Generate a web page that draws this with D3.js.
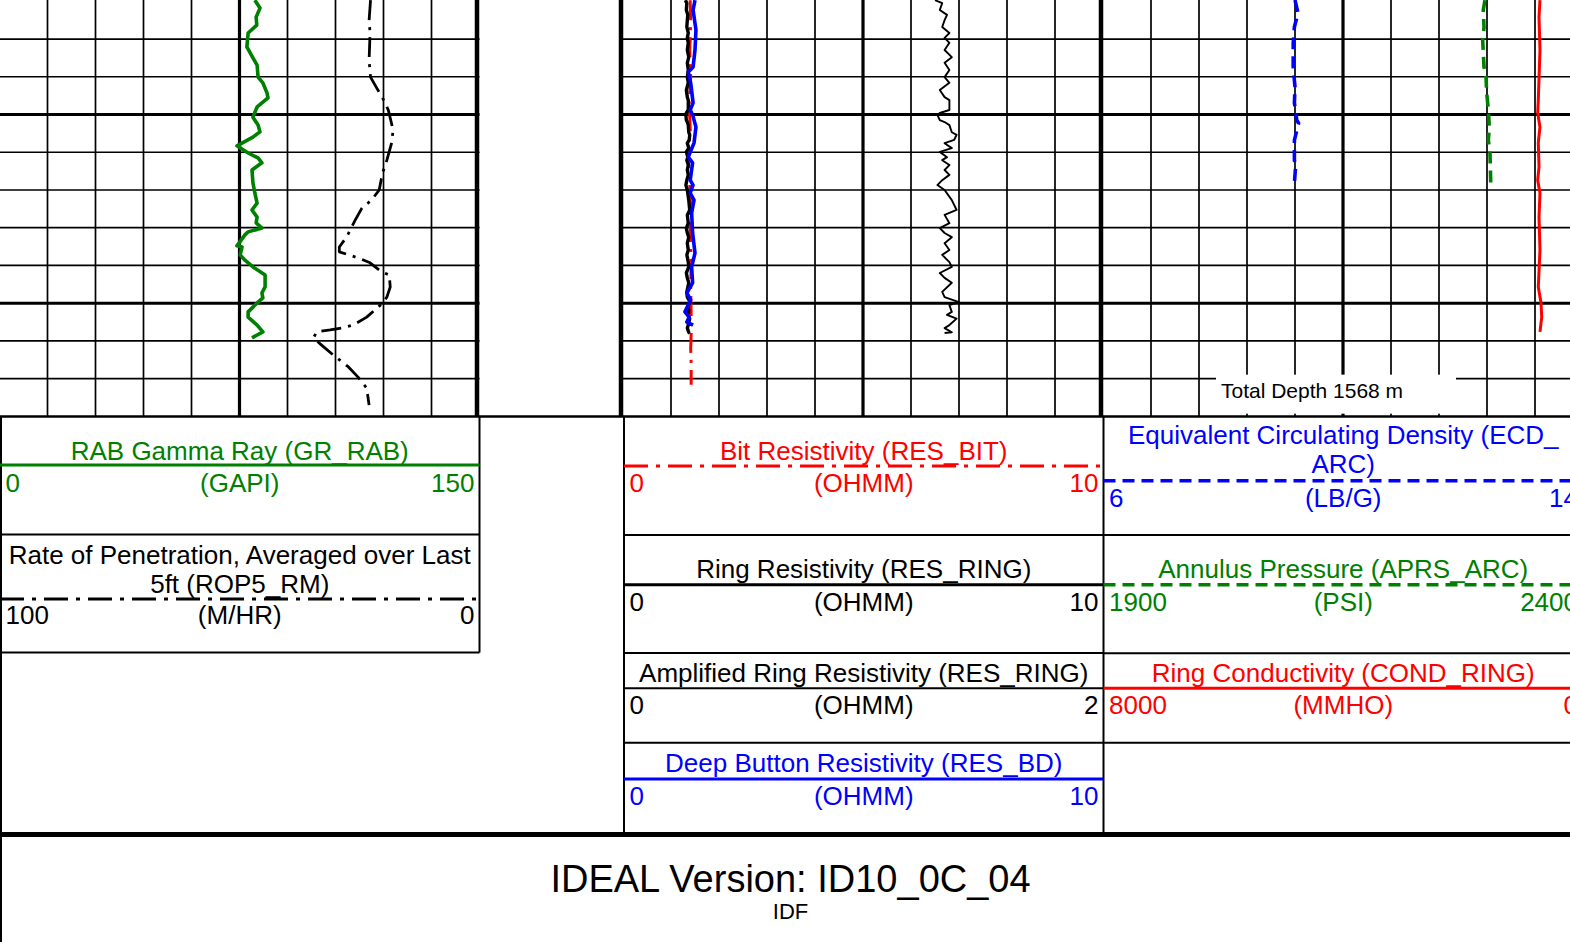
<!DOCTYPE html>
<html>
<head>
<meta charset="utf-8">
<script src="https://cdn.jsdelivr.net/npm/d3@7"></script>
<style>
  html, body { margin: 0; padding: 0; background: #fff; overflow: hidden; }
  svg { display: block; font-family: 'Liberation Sans', Arial, sans-serif; }
</style>
</head>
<body>
<svg id="log" width="1570" height="942"></svg>
<script>
// depth window (m)
const depthTop = 1557;
const depthBottom = 1568;
const totalDepth = 1568;
const gridDepths = d3.range(1558, 1568);

// track 1 : gamma ray + rate of penetration
const grDepth = [1556.97, 1557.18, 1557.42, 1557.63, 1557.84, 1558.21, 1558.50, 1558.69, 1559.01, 1559.16, 1559.43, 1559.56, 1559.80, 1560.07, 1560.28, 1560.46, 1560.60, 1560.83, 1561.02, 1561.15, 1561.28, 1561.47, 1561.81, 1562.08, 1562.35, 1562.53, 1562.72, 1562.87, 1563.01, 1563.11, 1563.19, 1563.48, 1563.51, 1563.72, 1563.86, 1564.04, 1564.25, 1564.57, 1564.73, 1564.86, 1564.97, 1565.23, 1565.37, 1565.58, 1565.76, 1565.92];
const grValue = [79.8, 81.4, 80.2, 80.4, 77.7, 77.3, 79.2, 80.5, 80.8, 82.3, 83.6, 83.9, 80.5, 79.2, 80.8, 81.4, 79.2, 74.2, 77.7, 80.8, 82.0, 78.9, 79.2, 79.8, 80.5, 78.9, 80.5, 80.2, 82.0, 77.7, 76.7, 74.2, 75.8, 75.2, 76.7, 79.2, 83.0, 83.0, 82.0, 82.3, 80.8, 77.7, 77.7, 80.5, 82.3, 78.9];

const ropDepth = [1556.97, 1557.50, 1557.84, 1558.56, 1559.01, 1559.30, 1559.56, 1559.88, 1560.41, 1560.75, 1561.21, 1561.55, 1562.00, 1562.27, 1562.48, 1562.80, 1563.25, 1563.51, 1563.64, 1563.80, 1563.93, 1564.17, 1564.25, 1564.57, 1564.84, 1565.00, 1565.37, 1565.58, 1565.66, 1565.71, 1565.76, 1565.92, 1566.11, 1566.37, 1566.69, 1566.96, 1567.25, 1567.70];
const ropValue = [22.7, 23.0, 22.8, 23.0, 22.7, 21.4, 20.2, 19.0, 18.0, 18.3, 19.3, 20.2, 20.9, 22.5, 24.5, 25.9, 27.7, 29.2, 29.2, 25.3, 22.8, 20.4, 18.8, 18.6, 19.3, 20.2, 23.5, 26.3, 28.7, 31.1, 33.9, 34.6, 32.9, 30.5, 27.3, 25.3, 23.5, 23.0];

// track 2 : resistivities
const resBitDepth = [1556.97, 1557.6, 1558.3, 1559.0, 1559.7, 1560.4, 1561.1, 1561.8, 1562.5, 1563.2, 1563.9, 1564.6, 1565.3, 1565.8, 1566.2, 1566.6, 1567.0, 1567.16];
const resBitValue = [1.40, 1.41, 1.39, 1.41, 1.38, 1.40, 1.36, 1.39, 1.41, 1.40, 1.42, 1.41, 1.42, 1.42, 1.41, 1.42, 1.42, 1.42];

const resRingDepth = [1556.97, 1557.05, 1557.23, 1557.36, 1557.50, 1557.68, 1557.84, 1557.97, 1558.10, 1558.29, 1558.48, 1558.63, 1558.82, 1559.01, 1559.16, 1559.35, 1559.54, 1559.62, 1559.88, 1559.96, 1560.01, 1560.15, 1560.20, 1560.28, 1560.47, 1560.54, 1560.67, 1560.76, 1560.89, 1560.99, 1561.13, 1561.21, 1561.34, 1561.47, 1561.60, 1561.74, 1561.87, 1562.00, 1562.27, 1562.53, 1562.66, 1562.88, 1563.01, 1563.14, 1563.25, 1563.41, 1563.59, 1563.72, 1563.91, 1564.04, 1564.20, 1564.33, 1564.46, 1564.70, 1564.84, 1564.97, 1565.05, 1565.23, 1565.31, 1565.41, 1565.58, 1565.66, 1565.77, 1565.79];
const resRingValue = [1.30, 1.33, 1.32, 1.35, 1.34, 1.33, 1.36, 1.34, 1.36, 1.34, 1.37, 1.34, 1.36, 1.34, 1.36, 1.32, 1.34, 1.36, 1.36, 1.32, 1.31, 1.32, 1.34, 1.36, 1.37, 1.39, 1.38, 1.34, 1.37, 1.32, 1.35, 1.33, 1.36, 1.34, 1.36, 1.33, 1.31, 1.34, 1.37, 1.39, 1.34, 1.36, 1.32, 1.34, 1.37, 1.34, 1.36, 1.33, 1.36, 1.37, 1.32, 1.34, 1.37, 1.33, 1.34, 1.40, 1.36, 1.37, 1.35, 1.39, 1.36, 1.34, 1.37, 1.34];

const resBdDepth = [1556.97, 1557.23, 1557.76, 1558.29, 1558.74, 1558.87, 1559.16, 1559.69, 1559.88, 1560.01, 1560.33, 1560.75, 1561.13, 1561.28, 1561.74, 1561.87, 1562.08, 1562.27, 1562.61, 1563.14, 1563.67, 1564.04, 1564.46, 1564.73, 1564.91, 1565.23, 1565.37, 1565.50, 1565.58];
const resBdValue = [1.50, 1.46, 1.52, 1.50, 1.46, 1.36, 1.41, 1.46, 1.40, 1.45, 1.52, 1.48, 1.36, 1.45, 1.40, 1.46, 1.40, 1.48, 1.43, 1.45, 1.50, 1.43, 1.45, 1.33, 1.41, 1.29, 1.38, 1.33, 1.46];

// track 3 : ECD, annulus pressure, ring conductivity
const ecdDepth = [1556.97, 1557.31, 1557.68, 1558.11, 1558.74, 1559.27, 1559.69, 1560.15, 1560.23, 1560.68, 1561.21, 1561.39, 1561.81];
const ecdValue = [9.20, 9.25, 9.19, 9.17, 9.17, 9.20, 9.19, 9.23, 9.26, 9.19, 9.19, 9.21, 9.19];

const aprsDepth = [1556.97, 1557.23, 1557.68, 1558.03, 1558.74, 1559.01, 1559.43, 1559.88, 1560.33, 1560.68, 1561.02, 1561.81];
const aprsValue = [2297.9, 2296.1, 2296.9, 2295.5, 2296.9, 2299.0, 2299.7, 2301.4, 2302.4, 2301.4, 2303.1, 2303.9];

const condDepth = [1556.97, 1557.42, 1558.29, 1559.62, 1559.96, 1560.33, 1560.75, 1561.39, 1561.74, 1562.08, 1562.72, 1563.59, 1564.57, 1564.99, 1565.37, 1565.76];
const condValue = [717, 733, 717, 745, 755, 717, 745, 733, 755, 717, 733, 717, 745, 700, 688, 717];

// header labels
const curveTitles = [
  ['RAB Gamma Ray (GR_RAB)'],
  ['Rate of Penetration, Averaged over Last', '5ft (ROP5_RM)'],
  ['Bit Resistivity (RES_BIT)'],
  ['Ring Resistivity (RES_RING)'],
  ['Amplified Ring Resistivity (RES_RING)'],
  ['Deep Button Resistivity (RES_BD)'],
  ['Equivalent Circulating Density (ECD_', 'ARC)'],
  ['Annulus Pressure (APRS_ARC)'],
  ['Ring Conductivity (COND_RING)'],
];
const curveUnits = ['(GAPI)', '(M/HR)', '(OHMM)', '(OHMM)', '(OHMM)', '(OHMM)', '(LB/G)', '(PSI)', '(MMHO)'];
const curveLeft = [0, 100, 0, 0, 0, 0, 6, 1900, 8000];
const curveRight = [150, 0, 10, 10, 2, 10, 14, 2400, 0];

const footerTitle = 'IDEAL Version: ID10_0C_04';
const footerSub = 'IDF';

// ---------------------------------------------------------------
const svg = d3.select('#log');
const GREEN = '#008000';
const RED = '#ff0000';
const BLUE = '#0000ff';
const DASH_DOT = '24,8,4,8';
const DASHED = '12,7';
const gridBottom = 416.5;

const y = d3.scaleLinear().domain([depthTop, depthBottom]).range([1.3, 416.4]);

const tracks = [
  { x0: -0.5, x1: 479.5, edges: [477] },
  { x0: 623, x1: 1103, edges: [621, 1101] },
  { x0: 1103, x1: 1583, edges: [] },
];

const grid = svg.append('g').attr('class', 'grid');

tracks.forEach(t => {
  const div = d3.scaleLinear().domain([0, 10]).range([t.x0, t.x1]);

  // depth lines
  grid
    .selectAll(null)
    .data(gridDepths)
    .enter()
    .append('line')
    .attr('x1', Math.max(0, t.x0))
    .attr('x2', Math.min(1570, t.x1))
    .attr('y1', d => y(d))
    .attr('y2', d => y(d))
    .attr('stroke', '#000')
    .attr('stroke-width', d => (d % 5 === 0 ? 3 : 1.7));

  // division lines
  grid
    .selectAll(null)
    .data(d3.range(1, 10))
    .enter()
    .append('line')
    .attr('x1', d => div(d))
    .attr('x2', d => div(d))
    .attr('y1', 0)
    .attr('y2', gridBottom)
    .attr('stroke', '#000')
    .attr('stroke-width', d => (d === 5 ? 3.2 : 1.7));

  // heavy track borders
  grid
    .selectAll(null)
    .data(t.edges)
    .enter()
    .append('line')
    .attr('x1', d => d)
    .attr('x2', d => d)
    .attr('y1', 0)
    .attr('y2', gridBottom)
    .attr('stroke', '#000')
    .attr('stroke-width', 4.5);
});

// total depth label over the bottom of track 3
svg.append('rect')
  .attr('x', 1216)
  .attr('y', y(totalDepth - 1) - 4)
  .attr('width', 240)
  .attr('height', 39)
  .attr('fill', '#fff');
svg.append('text')
  .attr('x', 1221)
  .attr('y', 398)
  .attr('font-size', 21)
  .attr('fill', '#000')
  .text(`Total Depth ${totalDepth} m`);

// clip for each track
const defs = svg.append('defs');
tracks.forEach((t, i) => {
  defs.append('clipPath')
    .attr('id', `clip${i}`)
    .append('rect')
    .attr('x', t.x0)
    .attr('y', 0)
    .attr('width', t.x1 - t.x0)
    .attr('height', gridBottom);
});

function drawCurve(track, depths, values, domain, style) {
  const t = tracks[track];
  const x = d3.scaleLinear().domain(domain).range([t.x0, t.x1]);
  const pts = depths.map((d, i) => ({ depth: d, value: values[i] }));
  const line = d3.line()
    .x(d => x(d.value))
    .y(d => y(d.depth));
  svg.append('path')
    .datum(pts)
    .attr('clip-path', `url(#clip${track})`)
    .attr('d', line)
    .attr('fill', 'none')
    .attr('stroke', style.color)
    .attr('stroke-width', style.width)
    .attr('stroke-linejoin', 'round')
    .attr('stroke-dasharray', style.dash || null);
}

// track 1
drawCurve(0, ropDepth, ropValue, [curveLeft[1], curveRight[1]], { color: '#000', width: 2.8, dash: '20,7,3,7' });
drawCurve(0, grDepth, grValue, [curveLeft[0], curveRight[0]], { color: GREEN, width: 3.6 });

// track 2
drawCurve(1, resBitDepth, resBitValue, [curveLeft[2], curveRight[2]], { color: RED, width: 3, dash: '20,7,3,7' });
drawCurve(1, resRingDepth, resRingValue, [curveLeft[3], curveRight[3]], { color: '#000', width: 3.4 });
drawCurve(1, resRingDepth, resRingValue, [curveLeft[4], curveRight[4]], { color: '#000', width: 1.9 });
drawCurve(1, resBdDepth, resBdValue, [curveLeft[5], curveRight[5]], { color: BLUE, width: 3.6 });

// track 3
drawCurve(2, ecdDepth, ecdValue, [curveLeft[6], curveRight[6]], { color: BLUE, width: 3.6, dash: DASHED });
drawCurve(2, aprsDepth, aprsValue, [curveLeft[7], curveRight[7]], { color: GREEN, width: 3.6, dash: DASHED });
drawCurve(2, condDepth, condValue, [curveLeft[8], curveRight[8]], { color: RED, width: 3 });

// ---------------------------------------------------------------
// header boxes
const cols = [
  { x0: 0, x1: 479.5, rows: [534.5, 652.5] },
  { x0: 624, x1: 1103.5, rows: [535, 653, 742.7] },
  { x0: 1103.5, x1: 1583, rows: [535, 653.3, 742.7] },
];

const headerLayout = [
  { col: 0, lineY: 465, titleY: [460], valueY: 492, color: GREEN, width: 3 },
  { col: 0, lineY: 599, titleY: [564, 593], valueY: 624, color: '#000', width: 3, dash: DASH_DOT },
  { col: 1, lineY: 466, titleY: [460], valueY: 492, color: RED, width: 3, dash: DASH_DOT },
  { col: 1, lineY: 584.7, titleY: [578], valueY: 611, color: '#000', width: 3 },
  { col: 1, lineY: 688.3, titleY: [681.7], valueY: 713.5, color: '#000', width: 2 },
  { col: 1, lineY: 779, titleY: [771.7], valueY: 804.5, color: BLUE, width: 3 },
  { col: 2, lineY: 480.7, titleY: [444.3, 473.3], valueY: 507, color: BLUE, width: 3.5, dash: DASHED },
  { col: 2, lineY: 584.7, titleY: [578.3], valueY: 610.5, color: GREEN, width: 3.5, dash: DASHED },
  { col: 2, lineY: 688.3, titleY: [681.7], valueY: 714, color: RED, width: 3 },
];

const frame = svg.append('g').attr('class', 'frame');

// bottom of the log grid
frame.append('line')
  .attr('x1', 0).attr('x2', 1570)
  .attr('y1', gridBottom).attr('y2', gridBottom)
  .attr('stroke', '#000').attr('stroke-width', 2.5);

cols.forEach(c => {
  frame.selectAll(null)
    .data(c.rows)
    .enter()
    .append('line')
    .attr('x1', Math.max(0, c.x0))
    .attr('x2', Math.min(1570, c.x1))
    .attr('y1', d => d)
    .attr('y2', d => d)
    .attr('stroke', '#000')
    .attr('stroke-width', 2);
});

const vBorders = [
  { x: 1, y1: gridBottom, y2: 942 },
  { x: 479.5, y1: gridBottom, y2: 652.5 },
  { x: 624, y1: gridBottom, y2: 835 },
  { x: 1103.5, y1: gridBottom, y2: 835 },
];
frame.selectAll(null)
  .data(vBorders)
  .enter()
  .append('line')
  .attr('x1', d => d.x).attr('x2', d => d.x)
  .attr('y1', d => d.y1).attr('y2', d => d.y2)
  .attr('stroke', '#000')
  .attr('stroke-width', 2);

// heavy line above the footer
frame.append('line')
  .attr('x1', 0).attr('x2', 1570)
  .attr('y1', 834.5).attr('y2', 834.5)
  .attr('stroke', '#000').attr('stroke-width', 5);

const header = svg.append('g').attr('class', 'header').attr('font-size', 26);

headerLayout.forEach((h, i) => {
  const c = cols[h.col];
  const mid = (c.x0 + c.x1) / 2;

  header.append('line')
    .attr('x1', Math.max(0, c.x0)).attr('x2', Math.min(1570, c.x1))
    .attr('y1', h.lineY).attr('y2', h.lineY)
    .attr('stroke', h.color)
    .attr('stroke-width', h.width)
    .attr('stroke-dasharray', h.dash || null);

  curveTitles[i].forEach((t, k) => {
    header.append('text')
      .attr('x', mid)
      .attr('y', h.titleY[k])
      .attr('text-anchor', 'middle')
      .attr('fill', h.color)
      .text(t);
  });

  header.append('text')
    .attr('x', c.x0 + 5.5).attr('y', h.valueY)
    .attr('fill', h.color)
    .text(curveLeft[i]);
  header.append('text')
    .attr('x', mid).attr('y', h.valueY)
    .attr('text-anchor', 'middle')
    .attr('fill', h.color)
    .text(curveUnits[i]);
  header.append('text')
    .attr('x', c.x1 - 5).attr('y', h.valueY)
    .attr('text-anchor', 'end')
    .attr('fill', h.color)
    .text(curveRight[i]);
});

// footer
svg.append('text')
  .attr('x', 790.5).attr('y', 892)
  .attr('text-anchor', 'middle')
  .attr('font-size', 38)
  .text(footerTitle);
svg.append('text')
  .attr('x', 790.5).attr('y', 919)
  .attr('text-anchor', 'middle')
  .attr('font-size', 22)
  .text(footerSub);
</script>
</body>
</html>
